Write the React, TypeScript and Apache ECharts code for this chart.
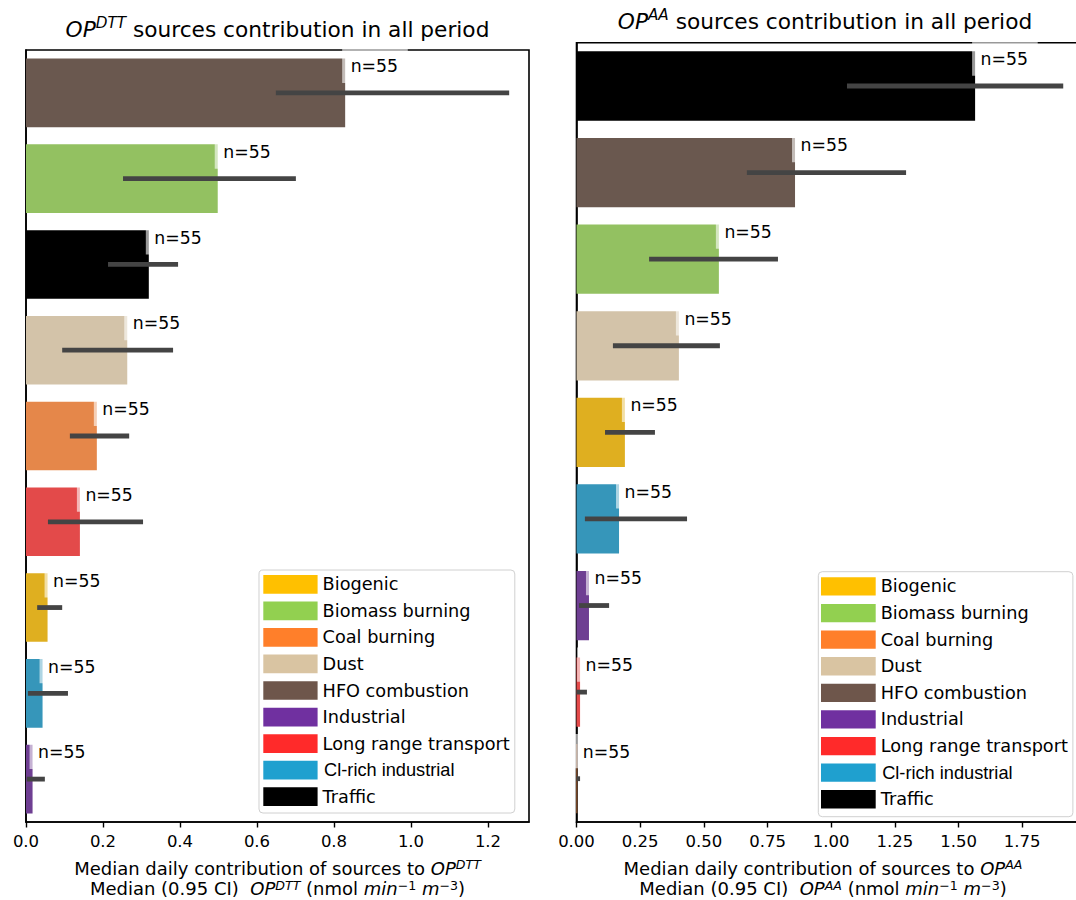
import React, { useEffect, useRef } from "react";
import * as echarts from "echarts";

// ---------- data ----------
const legendOrder = [
  "Biogenic",
  "Biomass burning",
  "Coal burning",
  "Dust",
  "HFO combustion",
  "Industrial",
  "Long range transport",
  "Cl-rich industrial",
  "Traffic",
];
const legendColors = [
  "#FFC000",
  "#92D050",
  "#FF7F2A",
  "#D9C4A2",
  "#6E564B",
  "#7030A0",
  "#FF2A2A",
  "#1FA0CF",
  "#000000",
];
const barColors = [
  "#DFAF20",
  "#93C161",
  "#E5874A",
  "#D3C3A9",
  "#6A584F",
  "#6E3E92",
  "#E34A4A",
  "#3696BA",
  "#000000",
];

const dttSources = [
  "HFO combustion",
  "Biomass burning",
  "Traffic",
  "Dust",
  "Coal burning",
  "Long range transport",
  "Biogenic",
  "Cl-rich industrial",
  "Industrial",
];
const dttMedian = [0.829, 0.498, 0.319, 0.263, 0.184, 0.14, 0.056, 0.043, 0.017];
const dttLow = [0.649, 0.252, 0.213, 0.094, 0.114, 0.057, 0.029, 0.005, 0.002];
const dttHigh = [1.255, 0.701, 0.395, 0.382, 0.268, 0.304, 0.094, 0.109, 0.049];
const dttN = [55, 55, 55, 55, 55, 55, 55, 55, 55];

const aaSources = [
  "Traffic",
  "HFO combustion",
  "Biomass burning",
  "Dust",
  "Biogenic",
  "Cl-rich industrial",
  "Industrial",
  "Long range transport",
  "Coal burning",
];
const aaMedian = [1.565, 0.858, 0.559, 0.402, 0.19, 0.167, 0.049, 0.014, 0.003];
const aaLow = [1.062, 0.669, 0.285, 0.143, 0.112, 0.033, 0.01, 0.0, 0.0];
const aaHigh = [1.911, 1.294, 0.791, 0.563, 0.308, 0.434, 0.128, 0.041, 0.014];
const aaN = [55, 55, 55, 55, 55, 55, 55, 55, 55];

const dttTicks = [0, 0.2, 0.4, 0.6, 0.8, 1.0, 1.2];
const aaTicks = [0, 0.25, 0.5, 0.75, 1.0, 1.25, 1.5, 1.75];

// ---------- styling ----------
const FONT = "DejaVu Sans";

function buildPanel(
  sources: string[],
  medians: number[],
  lows: number[],
  highs: number[],
  ns: number[],
  idx: number
) {
  const bars = legendOrder.map((name, k) => ({
    type: "bar",
    name,
    xAxisIndex: idx,
    yAxisIndex: idx,
    stack: "p" + idx,
    barCategoryGap: "20%",
    silent: true,
    data: sources.map((s, i) => (s === name ? medians[i] : "-")),
    itemStyle: { color: barColors[k] },
    label: {
      show: true,
      formatter: (p: any) => "n=" + ns[p.dataIndex],
      position: ["100%", 0],
      offset: [-3, -10],
      fontSize: 17.3,
      fontFamily: FONT,
      color: "#000",
      lineHeight: 17,
      backgroundColor: "rgba(255,255,255,0.6)",
      padding: [9, 9.7, 8.3, 8.5],
    },
    emphasis: { disabled: true },
    z: 2,
  }));
  const err = {
    type: "custom",
    xAxisIndex: idx,
    yAxisIndex: idx,
    silent: true,
    z: 4,
    encode: { x: [0, 1], y: 2 },
    data: sources.map((s, i) => [lows[i], highs[i], i]),
    renderItem: (params: any, api: any) => {
      const a = api.coord([api.value(0), api.value(2)]);
      const b = api.coord([api.value(1), api.value(2)]);
      return {
        type: "line",
        shape: { x1: a[0], y1: a[1], x2: b[0], y2: b[1] },
        style: { stroke: "#444444", lineWidth: 4.8 },
      };
    },
  };
  return [...bars, err];
}

function legendCfg(left: number, top: number, pad: number[], iw: number, ih: number, gap: number) {
  return {
    show: true,
    orient: "vertical",
    left,
    top,
    padding: pad,
    itemWidth: iw,
    itemHeight: ih,
    itemGap: gap,
    icon: "rect",
    selectedMode: false,
    backgroundColor: "#ffffff",
    borderColor: "#d0d0d0",
    borderWidth: 1,
    borderRadius: 4,
    formatter: (name: string) => (name === "Cl-rich industrial" ? "{c|" + name + "}" : name),
    textStyle: {
      fontFamily: FONT,
      fontSize: 17.7,
      lineHeight: 18,
      color: "#000",
      rich: {
        c: { fontFamily: "Liberation Sans", fontSize: 18.2, lineHeight: 18, color: "#000", padding: [0, 0, 0, 1.5] },
      },
    },
    data: legendOrder.map((n, k) => ({ name: n, itemStyle: { color: legendColors[k], borderWidth: 0 } })),
  };
}

function xAxisCfg(idx: number, max: number, ticks: number[], digits: number) {
  return {
    type: "value",
    gridIndex: idx,
    min: 0,
    max,
    axisLine: { show: true, onZero: false, lineStyle: { color: "#000", width: 1.6 } },
    axisTick: { show: true, length: 5.5, lineStyle: { color: "#000", width: 1.4 }, customValues: ticks },
    axisLabel: {
      show: true,
      customValues: ticks,
      formatter: (v: number) => Number(v).toFixed(digits),
      fontFamily: FONT,
      fontSize: 16.5,
      color: "#000",
      margin: 11,
    },
    splitLine: { show: false },
  };
}

function yAxisCfg(idx: number, data: string[]) {
  return {
    type: "category",
    gridIndex: idx,
    data,
    inverse: true,
    axisLine: { show: true, lineStyle: { color: "#000", width: 1.6 } },
    axisTick: { show: false },
    axisLabel: { show: false },
    splitLine: { show: false },
  };
}

const titleRich = {
  i: { fontFamily: FONT, fontStyle: "italic", fontSize: 21.7, lineHeight: 28, color: "#000" },
  s: { fontFamily: FONT, fontStyle: "italic", fontSize: 15.2, lineHeight: 15, verticalAlign: "top", color: "#000" },
  n: { fontFamily: FONT, fontSize: 21.7, lineHeight: 28, color: "#000" },
};
const labRich = {
  i: { fontFamily: FONT, fontStyle: "italic", fontSize: 18, lineHeight: 20.2, color: "#000" },
  s: { fontFamily: FONT, fontStyle: "italic", fontSize: 12.6, lineHeight: 9, verticalAlign: "top", color: "#000" },
  u: { fontFamily: FONT, fontSize: 12.6, lineHeight: 9, verticalAlign: "top", color: "#000" },
  n: { fontFamily: FONT, fontSize: 18, lineHeight: 20.2, color: "#000" },
};

function txt(x: number, y: number, text: string, rich: any) {
  return {
    type: "text",
    x,
    y,
    silent: true,
    z: 10,
    style: { text, rich, align: "center", verticalAlign: "middle", fill: "#000", fontFamily: FONT },
  };
}

function axisName(op: string) {
  return (
    "{n|Median daily contribution of sources to }{i|OP}{s|" + op + "}\n" +
    "{n|Median (0.95 CI)  }{i|OP}{s|" + op + "}{n| (nmol }{i|min}{u|\u22121}{n| }{i|m}{u|\u22123}{n|)}"
  );
}

export default function App() {
  const ref = useRef<HTMLDivElement>(null);
  useEffect(() => {
    document.documentElement.style.overflow = "hidden";
    document.body.style.margin = "0";
    document.body.style.overflow = "hidden";
    const chart = echarts.init(ref.current!, undefined, { renderer: "svg" });
    const option = {
      animation: false,
      backgroundColor: "#ffffff",
      grid: [
        { left: 26, top: 50, width: 503, height: 772, show: true, borderColor: "#000", borderWidth: 1.6, backgroundColor: "transparent" },
        { left: 576.5, top: 42.7, width: 510, height: 779.3, show: true, borderColor: "#000", borderWidth: 1.6, backgroundColor: "transparent" },
      ],
      xAxis: [xAxisCfg(0, 503 / 385, dttTicks, 1), xAxisCfg(1, 510 / 254.7, aaTicks, 2)],
      yAxis: [yAxisCfg(0, dttSources), yAxisCfg(1, aaSources)],
      legend: [
        legendCfg(259, 570, [5, 5, 7, 4.3], 54.3, 18.7, 7.84),
        legendCfg(818.3, 571.7, [5.6, 5, 8.3, 2.7], 54.7, 18.3, 8.3),
      ],
      series: [
        ...buildPanel(dttSources, dttMedian, dttLow, dttHigh, dttN, 0),
        ...buildPanel(aaSources, aaMedian, aaLow, aaHigh, aaN, 1),
      ],
      graphic: [
        txt(277.5, 29, "{i|OP}{s|DTT}{n| sources contribution in all period}", titleRich),
        txt(825, 21.7, "{i|OP}{s|AA}{n| sources contribution in all period}", titleRich),
        txt(277.5, 878.5, axisName("DTT"), labRich),
        txt(823, 878.5, axisName("AA"), labRich),
      ],
    };
    chart.setOption(option as any);
    return () => chart.dispose();
  }, []);
  return <div ref={ref} style={{ position: "fixed", left: 0, top: 0, width: 1100, height: 900 }} />;
}
